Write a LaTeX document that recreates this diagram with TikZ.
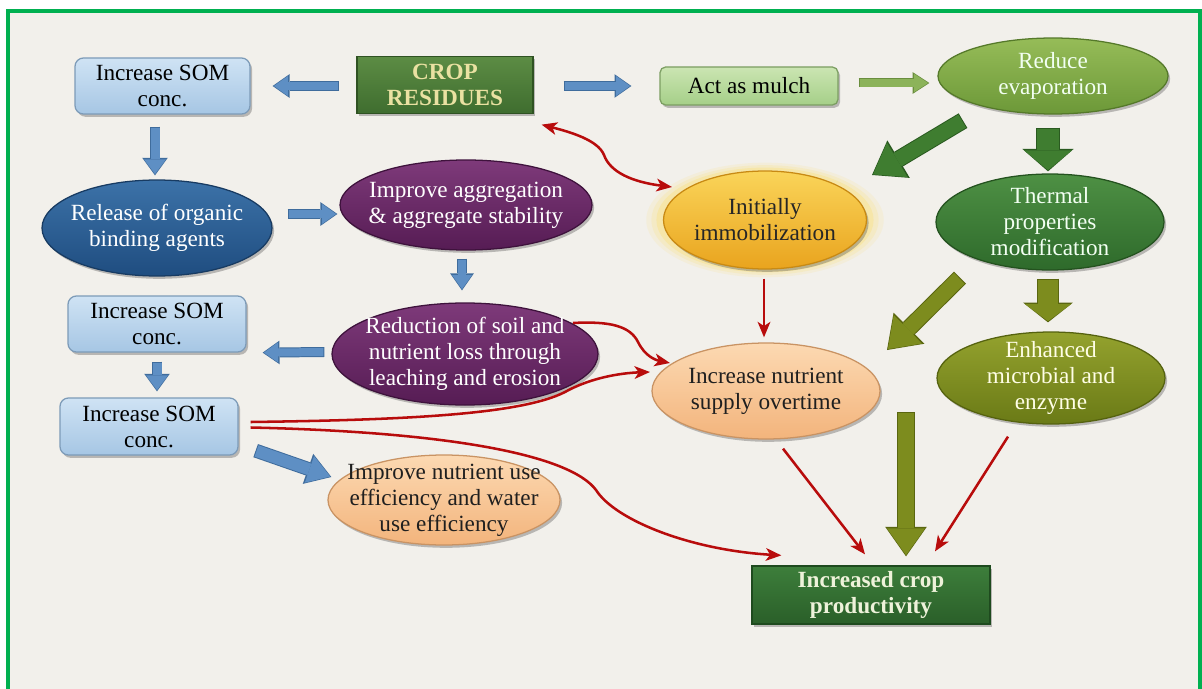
\documentclass[tikz,border=0pt]{standalone}
\usepackage{fontspec}
\setmainfont{Liberation Serif}
\usetikzlibrary{shapes.geometric,arrows.meta,calc,shadows}
\definecolor{bgc}{HTML}{F2F0EB}
\definecolor{framec}{HTML}{00B050}
\definecolor{lbtop}{HTML}{CFE3F4}\definecolor{lbbot}{HTML}{A6C6E4}\definecolor{lbline}{HTML}{7D9BB8}
\definecolor{croptop}{HTML}{5C8C44}\definecolor{cropbot}{HTML}{3F6D2F}\definecolor{cropline}{HTML}{2F5222}\definecolor{croptext}{HTML}{EAE1A2}
\definecolor{multop}{HTML}{CBE5B2}\definecolor{mulbot}{HTML}{A5CF88}\definecolor{mulline}{HTML}{7C9E62}
\definecolor{evtop}{HTML}{96BC58}\definecolor{evbot}{HTML}{6C9838}\definecolor{evline}{HTML}{55792A}
\definecolor{reltop}{HTML}{3C72A8}\definecolor{relbot}{HTML}{1F4D80}\definecolor{relline}{HTML}{183B62}
\definecolor{purtop}{HTML}{7E3A7A}\definecolor{purbot}{HTML}{561C54}\definecolor{purline}{HTML}{3E123C}
\definecolor{gotop}{HTML}{FAD459}\definecolor{gobot}{HTML}{E9A41E}\definecolor{goline}{HTML}{C88A14}\definecolor{glowc}{HTML}{FFD84A}
\definecolor{thtop}{HTML}{4E9044}\definecolor{thbot}{HTML}{2E6A2B}\definecolor{thline}{HTML}{24521F}
\definecolor{entop}{HTML}{94A22E}\definecolor{enbot}{HTML}{6A7A16}\definecolor{enline}{HTML}{55620F}
\definecolor{petop}{HTML}{FCD9B2}\definecolor{pebot}{HTML}{F3B47C}\definecolor{peline}{HTML}{C99363}
\definecolor{prtop}{HTML}{3D7E3B}\definecolor{prbot}{HTML}{2A5F29}\definecolor{prline}{HTML}{1E4A1E}\definecolor{prtext}{HTML}{EEF2DA}
\definecolor{redc}{HTML}{B80C0C}
\definecolor{blu}{HTML}{5E8FC4}\definecolor{bluo}{HTML}{3F6C9C}
\definecolor{lgr}{HTML}{8CB35A}\definecolor{lgro}{HTML}{6A8E3E}
\definecolor{dgr}{HTML}{3F7D30}\definecolor{dgro}{HTML}{2A5A20}
\definecolor{olv}{HTML}{7D8C1E}\definecolor{olvo}{HTML}{5A6610}
\newcommand\barrow[7]{%
 \pgfmathsetmacro\bwid{#3+1.4}\pgfmathsetmacro\hwid{#4+2.6}\pgfmathsetmacro\hlen{#5+2}%
 \draw[draw=#2, line width=\bwid pt, -{Triangle[width=\hwid pt,length=\hlen pt,line width=0pt]}] #6 -- #7;
 \draw[draw=#1, line width=#3pt, -{Triangle[width=#4pt,length=#5pt,line width=0pt]}, shorten >=0.9pt, shorten <=0.7pt] #6 -- #7;}
\begin{document}
\begin{tikzpicture}[x=0.025cm,y=-0.025cm,
 every node/.style={font=\fontsize{16.5}{18.5}\selectfont},
 sz/.style 2 args={minimum width=#1*0.025cm, minimum height=#2*0.025cm},
 shd/.style={drop shadow={shadow xshift=1.5pt,shadow yshift=-2pt,opacity=0.35,fill=black!70}},
 rbox/.style={rectangle, rounded corners=6pt, inner sep=0pt, align=center, line width=0.9pt, shd},
 sqbox/.style={rectangle, inner sep=0pt, align=center, line width=0.9pt, shd},
 ell/.style={ellipse, inner sep=0pt, line width=0.9pt, shd},
 txt/.style={align=center, inner sep=0pt},
 lblue/.style={rbox, top color=lbtop, bottom color=lbbot, draw=lbline},
 peach/.style={ell, top color=petop, bottom color=pebot, draw=peline},
 purp/.style={ell, top color=purtop, bottom color=purbot, draw=purline},
 redarr/.style={draw=redc, line width=1.8pt, -{Stealth[length=11pt,width=9pt,inset=3pt]}},
]
\useasboundingbox (0,0) rectangle (1202,689);
\fill[white] (0,0) rectangle (1202,689);
\fill[bgc] (8,11) rectangle (1200,693);
\draw[framec, line width=2.2pt] (8,11) rectangle (1200,693);

% nodes
\node[lblue, sz={175}{56}] (som1) at (162.5,86) {Increase SOM\\conc.};
\node[sqbox, sz={176}{57}, top color=croptop, bottom color=cropbot, draw=cropline,
      text=croptext, font=\fontsize{16.5}{18.5}\selectfont\bfseries] (crop) at (445,85) {CROP\\RESIDUES};
\node[rbox, sz={178}{38}, top color=multop, bottom color=mulbot, draw=mulline, rounded corners=4pt] (mulch) at (749,86) {Act as mulch};
\node[ell, sz={230}{76}, top color=evtop, bottom color=evbot, draw=evline,
      label={[txt, text=white!95!green]center:{Reduce\\evaporation}}] (evap) at (1053,76) {};
\node[ell, sz={230}{96}, top color=reltop, bottom color=relbot, draw=relline,
      label={[txt, text=white]center:{Release of organic\\binding agents}}] (release) at (157,228) {};
\node[purp, sz={252}{90},
      label={[txt, text=white]center:{Improve aggregation\\\& aggregate stability}}] (agg) at (466,205) {};
\foreach \s/\o in {1.17/0.10, 1.12/0.14, 1.07/0.22}
  \fill[glowc, opacity=\o] (765,220) ellipse ({101.5*\s} and {49*\s});
\node[ell, sz={203}{98}, top color=gotop, bottom color=gobot, draw=goline,
      label={[txt, text=black!85]center:{Initially\\immobilization}}] (init) at (765,220) {};
\node[ell, sz={228}{96}, top color=thtop, bottom color=thbot, draw=thline,
      label={[txt, text=white!95!green]center:{Thermal\\properties\\modification}}] (thermal) at (1050,222) {};
\node[lblue, sz={178}{56}] (som2) at (157,324) {Increase SOM\\conc.};
\node[purp, sz={266}{102},
      label={[txt, text=white]center:{Reduction of soil and\\nutrient loss through\\leaching and erosion}}] (reduction) at (465,354) {};
\node[peach, sz={228}{96},
      label={[txt, text=black!88]center:{Increase nutrient\\supply overtime}}] (nutrient) at (766,391) {};
\node[ell, sz={228}{92}, top color=entop, bottom color=enbot, draw=enline,
      label={[txt, text=white!90!yellow]center:{Enhanced\\microbial and\\enzyme}}] (enhanced) at (1051,378) {};
\node[lblue, sz={178}{57}] (som3) at (149,426.5) {Increase SOM\\conc.};
\node[peach, sz={232}{90},
      label={[txt, text=black!88]center:{Improve nutrient use\\efficiency and water\\use efficiency}}] (nue) at (444,500) {};
\node[sqbox, sz={238}{58}, top color=prtop, bottom color=prbot, draw=prline,
      text=prtext, font=\fontsize{16.5}{18.5}\selectfont\bfseries] (prod) at (871,595) {Increased crop\\productivity};
\coordinate (bigtail) at (906,412);

% block arrows
\barrow{blu}{bluo}{5.7}{14.2}{10}{($(crop.west)+(-17,1)$)}{($(som1.east)+(22,0)$)}
\barrow{blu}{bluo}{5.7}{14.2}{10}{($(crop.east)+(30,1)$)}{($(mulch.west)+(-28,0)$)}
\barrow{lgr}{lgro}{5}{13}{10}{($(mulch.east)+(20,-3)$)}{($(evap.west)+(-8,7)$)}
\barrow{blu}{bluo}{6.4}{15.6}{10.5}{($(som1.south)+(-7.5,12)$)}{($(release.north)+(-2,-4)$)}
\barrow{blu}{bluo}{5.7}{14.2}{10}{($(release.east)+(15,-14)$)}{($(agg.west)+(-2,9)$)}
\barrow{blu}{bluo}{5.7}{14.2}{10}{($(agg.south)+(-4,8)$)}{($(reduction.north)+(-3,-12)$)}
\barrow{blu}{bluo}{5.7}{14.2}{10}{($(reduction.west)+(-7,-2)$)}{($(som2.south east)+(16,0)$)}
\barrow{blu}{bluo}{6.4}{15.6}{10.5}{($(som2.south)+(0,9)$)}{($(som3.north)+(8,-6)$)}
\barrow{blu}{bluo}{8.5}{20}{15.6}{($(som3.south east)+(17,-5)$)}{($(nue.west)+(4,-23)$)}
\barrow{dgr}{dgro}{10.7}{28.5}{20}{($(evap.south)+(-90,6)$)}{($(init)+(107,-45)$)}
\barrow{dgr}{dgro}{15.6}{34}{14}{($(evap.south)+(-5,13)$)}{($(thermal.north)+(-2,-2)$)}
\barrow{olv}{olvo}{10.7}{28.5}{20}{($(thermal.south)+(-90,7)$)}{($(nutrient)+(121,-41)$)}
\barrow{olv}{olvo}{14.2}{32.7}{12}{($(thermal.south)+(-2,8)$)}{($(enhanced.north)+(-3,-9)$)}
\barrow{olv}{olvo}{12}{27}{19}{(bigtail)}{($(prod.north)+(35,-9)$)}

% red connectors
\draw[redarr, {Stealth[length=11pt,width=9pt,inset=3pt]}-{Stealth[length=11pt,width=9pt,inset=3pt]}]
  ($(crop.south east)+(8,10.5)$) .. controls (570,132) and (598,140) .. (604,155)
  .. controls (610,172) and (632,182) .. ($(init)+(-93,-33)$);
\draw[redarr] ($(init.south)+(-1,9)$) -- ($(nutrient.north)+(-2,-5)$);
\draw[redarr] ($(reduction)+(108,-31)$) .. controls (610,321) and (630,326) .. (638,342)
  .. controls (645,356) and (655,360) .. ($(nutrient)+(-96,-28)$);
\draw[redarr] ($(som3.east)+(12,-4.5)$) .. controls (400,420) and (520,415) .. (565,392)
  .. controls (590,378) and (620,373) .. ($(nutrient)+(-116,-19)$);
\draw[redarr] ($(som3.east)+(12,1)$) .. controls (450,432) and (570,455) .. (596,490)
  .. controls (615,520) and (690,550) .. ($(prod.north west)+(30,-10)$);
\draw[redarr] ($(nutrient.south)+(17,9)$) -- ($(prod.north)+(-6,-11)$);
\draw[redarr] ($(enhanced.south)+(-43,12)$) -- ($(prod.north)+(64,-14)$);
\end{tikzpicture}
\end{document}
